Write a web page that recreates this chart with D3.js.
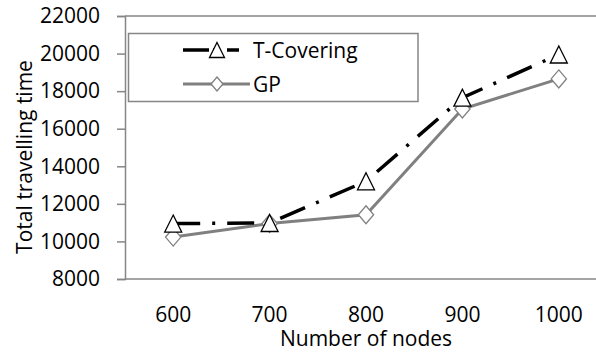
<!DOCTYPE html>
<html lang="en">
<head>
<meta charset="UTF-8">
<title>Total travelling time vs number of nodes</title>
<script src="https://d3js.org/d3.v7.min.js"></script>
<style>
    body, html { margin: 0; padding: 0; background: #fff; overflow: hidden; }
    svg text { font-family: "Open Sans", "Noto Sans", sans-serif; fill: #000; }
</style>
</head>
<body>
<div id="chart"></div>
<script>
    // chart data
    const nodes = ["600", "700", "800", "900", "1000"];
    const tCovering = [10950, 10980, 13200, 17650, 19950];
    const gp = [10230, 10950, 11420, 17050, 18650];
    const yTicks = [8000, 10000, 12000, 14000, 16000, 18000, 20000, 22000];

    const width = 596, height = 352;
    const svg = d3.select("#chart").append("svg")
        .attr("width", width)
        .attr("height", height);

    // plot area runs a little past the right edge, like the original
    const x = d3.scaleBand().domain(nodes).range([125, 607]).padding(0);
    const y = d3.scaleLinear().domain([8000, 22000]).range([279, 16]);
    const cx = d => x(d) + x.bandwidth() / 2;

    const axisColor = "#868686";

    // top border line
    svg.append("line")
        .attr("x1", 125).attr("x2", width)
        .attr("y1", y(22000)).attr("y2", y(22000))
        .attr("stroke", axisColor).attr("stroke-width", 1.5);

    // y axis
    const yAxis = svg.append("g")
        .attr("transform", "translate(125,0)")
        .call(d3.axisLeft(y).tickValues(yTicks).tickSize(8).tickPadding(17).tickFormat(d3.format("d")));
    yAxis.select(".domain").attr("stroke", axisColor).attr("stroke-width", 1.5);
    yAxis.selectAll(".tick line").attr("stroke", axisColor).attr("stroke-width", 1.5);
    yAxis.selectAll(".tick text").attr("font-size", 21).attr("fill", "#000")
        .style("font-family", "'Open Sans', sans-serif");

    // x axis
    const xAxis = svg.append("g")
        .attr("transform", `translate(0,${y(8000)})`)
        .call(d3.axisBottom(x).tickSize(0).tickPadding(28));
    xAxis.select(".domain").attr("d", `M125,0H${width}`)
        .attr("stroke", axisColor).attr("stroke-width", 1.5);
    xAxis.selectAll(".tick text").attr("font-size", 21).attr("fill", "#000")
        .style("font-family", "'Open Sans', sans-serif");

    // axis titles
    svg.append("text")
        .attr("x", 366).attr("y", 346)
        .attr("text-anchor", "middle")
        .attr("font-size", 21)
        .text("Number of nodes");

    svg.append("text")
        .attr("transform", "translate(32,157) rotate(-90)")
        .attr("text-anchor", "middle")
        .attr("font-size", 21)
        .text("Total travelling time");

    const line = d3.line().x((d, i) => cx(nodes[i])).y(d => y(d));

    const dashDot = "27,12,3,12";

    // GP series
    svg.append("path")
        .datum(gp)
        .attr("d", line)
        .attr("fill", "none")
        .attr("stroke", "#808080")
        .attr("stroke-width", 3);

    // T-Covering series
    svg.append("path")
        .datum(tCovering)
        .attr("d", line)
        .attr("fill", "none")
        .attr("stroke", "#000")
        .attr("stroke-width", 3.5)
        .attr("stroke-dasharray", dashDot);

    const diamond = s => `M0,${-s}L${s * 0.85},0L0,${s}L${-s * 0.85},0Z`;
    const triangle = s => `M0,${-s}L${s},${s}L${-s},${s}Z`;

    svg.selectAll(".gp-mark")
        .data(gp)
        .enter().append("path")
        .attr("class", "gp-mark")
        .attr("transform", (d, i) => `translate(${cx(nodes[i])},${y(d)})`)
        .attr("d", diamond(9))
        .attr("fill", "#fff")
        .attr("stroke", "#808080")
        .attr("stroke-width", 1.3);

    svg.selectAll(".tc-mark")
        .data(tCovering)
        .enter().append("path")
        .attr("class", "tc-mark")
        .attr("transform", (d, i) => `translate(${cx(nodes[i])},${y(d)})`)
        .attr("d", triangle(8.5))
        .attr("fill", "#fff")
        .attr("stroke", "#000")
        .attr("stroke-width", 1.3);

    // legend
    const legend = svg.append("g");
    legend.append("rect")
        .attr("x", 128.5).attr("y", 33.5)
        .attr("width", 289.5).attr("height", 68)
        .attr("fill", "#fff")
        .attr("stroke", axisColor).attr("stroke-width", 1.5);

    const rows = [
        { name: "T-Covering", y: 50, color: "#000", w: 3.5, dash: "26,4,2,12,12", shape: triangle(7.5), mc: "#000" },
        { name: "GP", y: 84, color: "#808080", w: 3, dash: null, shape: diamond(7), mc: "#808080" }
    ];
    rows.forEach(r => {
        legend.append("line")
            .attr("x1", 183).attr("x2", 250)
            .attr("y1", r.y).attr("y2", r.y)
            .attr("stroke", r.color).attr("stroke-width", r.w)
            .attr("stroke-dasharray", r.dash);
        legend.append("path")
            .attr("transform", `translate(217,${r.y})`)
            .attr("d", r.shape)
            .attr("fill", "#fff")
            .attr("stroke", r.mc).attr("stroke-width", 1.3);
        legend.append("text")
            .attr("x", 253).attr("y", r.y)
            .attr("dy", "0.36em")
            .attr("font-size", 21)
            .text(r.name);
    });
</script>
</body>
</html>
